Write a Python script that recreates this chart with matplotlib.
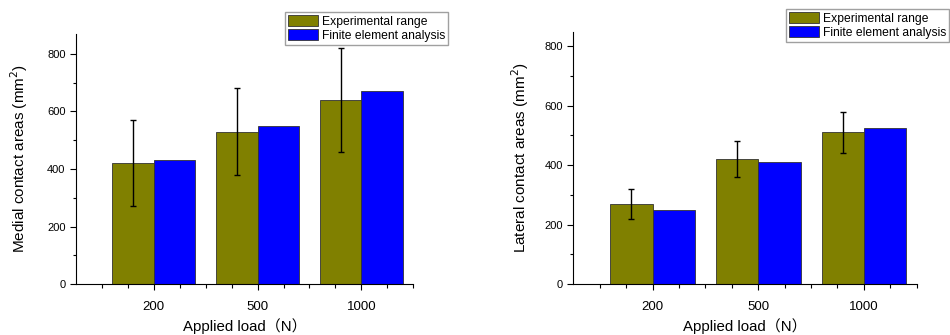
import matplotlib.pyplot as plt
import numpy as np

plt.rcParams['font.family'] = ['Liberation Sans', 'Noto Sans CJK SC', 'DejaVu Sans']

loads = ["200", "500", "1000"]

medial_exp = [420, 530, 640]
medial_exp_err = [150, 150, 180]
medial_fea = [430, 550, 670]

lateral_exp = [270, 420, 510]
lateral_exp_err = [50, 60, 70]
lateral_fea = [250, 410, 525]

olive = "#808000"
blue = "#0000ff"

fig = plt.figure(figsize=(9.5, 3.35), dpi=100)
ax1 = fig.add_axes([0.080, 0.152, 0.355, 0.747])
ax2 = fig.add_axes([0.6035, 0.152, 0.3615, 0.753])

x = np.arange(1, len(loads) + 1)
w = 0.4


def draw(ax, exp, err, fea, ylab, ytop, leg_pos, ypad):
    b1 = ax.bar(x - w / 2, exp, w, color=olive, edgecolor="#333333", linewidth=0.6,
                label="Experimental range")
    b2 = ax.bar(x + w / 2, fea, w, color=blue, edgecolor="#333333", linewidth=0.6,
                label="Finite element analysis")
    ax.errorbar(x - w / 2, exp, yerr=err, fmt="none", ecolor="black",
                elinewidth=1, capsize=2.5, capthick=1)
    ax.set_xlim(0.25, 3.5)
    ax.set_ylim(0, ytop)
    ax.set_xticks(x)
    ax.set_xticklabels(loads, fontsize=9.5)
    ax.set_xticks(np.arange(0.5, 3.51, 0.25), minor=True)
    ax.set_yticks(np.arange(0, 801, 200))
    ax.set_yticks(np.arange(0, 801, 100), minor=True)
    ax.tick_params(axis="y", which="major", labelsize=8, length=4, direction="out", width=0.8)
    ax.tick_params(axis="y", which="minor", length=2, direction="out", width=0.8)
    ax.tick_params(axis="x", which="major", length=4, direction="out", width=0.8, pad=8)
    ax.tick_params(axis="x", which="minor", length=3, direction="out", width=0.8)
    for s in ["top", "right"]:
        ax.spines[s].set_visible(False)
    for s in ["left", "bottom"]:
        ax.spines[s].set_linewidth(0.8)
    ax.set_ylabel(ylab + " (mm$^2$)", fontsize=11, labelpad=ypad)
    ax.set_xlabel("Applied load（N）", fontsize=10.8, labelpad=4)
    fig.legend(handles=[b1, b2], loc="upper left", bbox_to_anchor=leg_pos,
               bbox_transform=fig.transFigure, fontsize=8.7, frameon=True,
               fancybox=False, edgecolor="#888888", borderpad=0.25,
               labelspacing=0.15, handlelength=2.5, handleheight=1.0,
               handletextpad=0.3, borderaxespad=0)


draw(ax1, medial_exp, medial_exp_err, medial_fea, "Medial contact areas", 870,
     (285 / 950, 1 - 12 / 335), 12)
draw(ax2, lateral_exp, lateral_exp_err, lateral_fea, "Lateral contact areas", 848,
     (786 / 950, 1 - 9 / 335), 10)

plt.savefig("out.png", dpi=100)
